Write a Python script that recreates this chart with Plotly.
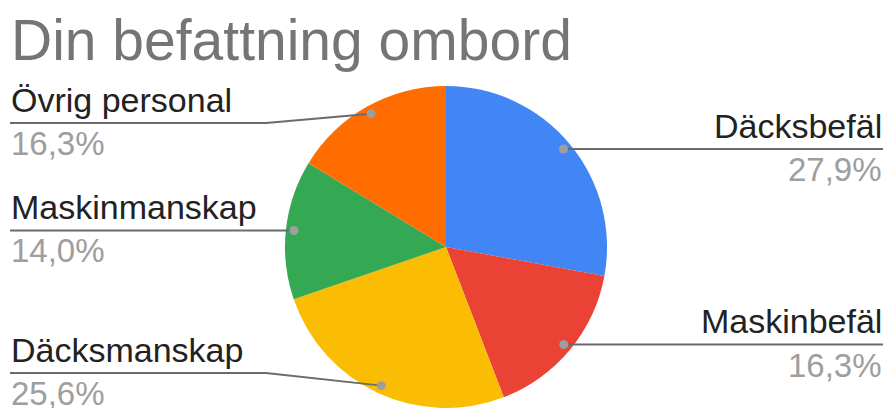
import math
import plotly.graph_objects as go

# Survey answers: position on board
title_text = "Din befattning ombord"
categories = ["Däcksbefäl", "Maskinbefäl", "Däcksmanskap", "Maskinmanskap", "Övrig personal"]
shares = [27.9, 16.3, 25.6, 14.0, 16.3]
colors = ["#4285F4", "#EA4335", "#FBBC04", "#34A853", "#FF6D01"]

W, H = 884, 408
FONT = "Arial, 'Liberation Sans', sans-serif"

# Pie geometry in pixels (centre x, radius); pie sits on the bottom edge
CX, R = 446, 161
CY = H - R


def px(x):
    return x / W


def py(y):
    return 1 - y / H


def fmt_pct(v):
    return f"{v:.1f}%".replace(".", ",")


fig = go.Figure(
    go.Pie(
        labels=categories,
        values=shares,
        sort=False,
        direction="clockwise",
        rotation=0,
        marker=dict(colors=colors, line=dict(width=0)),
        textinfo="none",
        hoverinfo="label+percent",
        showlegend=False,
        domain=dict(x=[px(CX - R), px(CX + R)], y=[0, 2 * R / H]),
    )
)

# Leader lines: label rows that are shifted away from the slice's anchor dot
row_override = {2: 373, 4: 123}
LEFT_END, RIGHT_END, BEND_X = 10, 883, 266

shapes, annotations = [], []
total = sum(shares)
cum = 0.0
for i, (name, v) in enumerate(zip(categories, shares)):
    mid = (cum + v / 2) / total * 2 * math.pi
    cum += v
    dx = CX + 0.95 * R * math.sin(mid)
    dy = CY - 0.95 * R * math.cos(mid)
    right = math.sin(mid) > 0
    row = row_override.get(i, dy)

    if right:
        pts = [(dx, dy), (RIGHT_END, row)]
    elif abs(row - dy) > 1:
        pts = [(dx, dy), (BEND_X, row), (LEFT_END, row)]
    else:
        pts = [(dx, dy), (LEFT_END, row)]
    path = "M " + " L ".join(f"{px(a):.5f},{py(b):.5f}" for a, b in pts)
    shapes.append(dict(type="path", path=path, xref="paper", yref="paper",
                       line=dict(color="#6b6b6b", width=2), layer="above"))
    r_dot = 4.5
    shapes.append(dict(type="circle", xref="paper", yref="paper",
                       x0=px(dx - r_dot), x1=px(dx + r_dot),
                       y0=py(dy + r_dot), y1=py(dy - r_dot),
                       fillcolor="#9e9e9e", line=dict(width=0), layer="above"))

    ax = px(884) if right else px(8.5)
    anchor = "right" if right else "left"
    annotations.append(dict(text=name, x=ax, y=py(row - 23.5), xref="paper", yref="paper",
                            xanchor=anchor, yanchor="middle", showarrow=False,
                            font=dict(family=FONT, size=34, color="#222222")))
    annotations.append(dict(text=fmt_pct(v), x=ax, y=py(row + 20.5), xref="paper", yref="paper",
                            xanchor=anchor, yanchor="middle", showarrow=False,
                            font=dict(family=FONT, size=33, color="#9e9e9e")))

annotations.append(dict(text=title_text, x=px(9), y=py(40), xref="paper", yref="paper",
                        xanchor="left", yanchor="middle", showarrow=False,
                        font=dict(family=FONT, size=57, color="#757575")))

fig.update_layout(
    width=W,
    height=H,
    margin=dict(l=0, r=0, t=0, b=0),
    paper_bgcolor="white",
    plot_bgcolor="white",
    shapes=shapes,
    annotations=annotations,
)

fig.write_html("out.html")
